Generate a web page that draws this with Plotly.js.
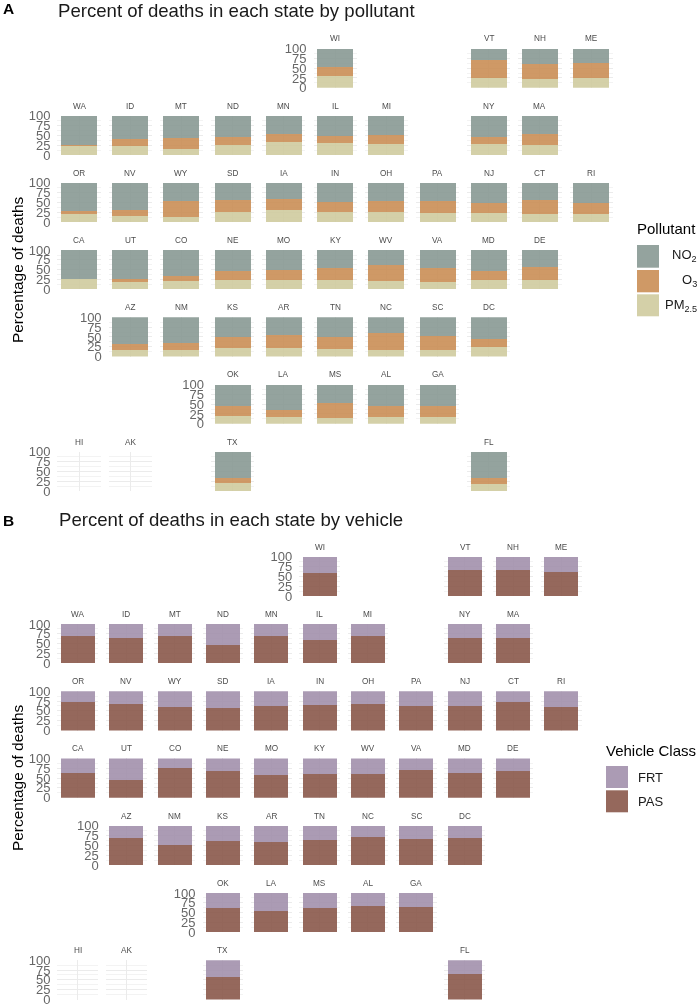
<!DOCTYPE html>
<html>
<head>
<meta charset="utf-8">
<script src="https://cdn.plot.ly/plotly-3.0.1.min.js"></script>
<style>html,body{margin:0;padding:0;background:#fff;overflow:hidden}#chart{width:700px;height:1006px}.main-svg{will-change:transform}</style>
</head>
<body>
<div id="chart"></div>
<script>
const states = ["WI","VT","NH","ME","WA","ID","MT","ND","MN","IL","MI","NY","MA","OR","NV","WY","SD","IA","IN","OH","PA","NJ","CT","RI","CA","UT","CO","NE","MO","KY","WV","VA","MD","DE","AZ","NM","KS","AR","TN","NC","SC","DC","OK","LA","MS","AL","GA","HI","AK","TX","FL"];
const gridRow = [0,0,0,0,1,1,1,1,1,1,1,1,1,2,2,2,2,2,2,2,2,2,2,2,3,3,3,3,3,3,3,3,3,3,4,4,4,4,4,4,4,4,5,5,5,5,5,6,6,6,6];
const gridCol = [5,8,9,10,0,1,2,3,4,5,6,8,9,0,1,2,3,4,5,6,7,8,9,10,0,1,2,3,4,5,6,7,8,9,1,2,3,4,5,6,7,8,3,4,5,6,7,0,1,3,8];

const pm25 = [29,24,23,24,24,23,16,25,33,30,27,27,25,20,16,12,25,32,26,25,24,23,21,22,27,20,21,23,23,23,21,19,23,23,16,16,22,21,19,18,17,25,19,17,16,17,18,null,null,20,19];
const o3   = [25,46,37,39,1,17,26,20,20,18,25,20,28,9,14,41,32,28,25,29,30,25,35,27,0,6,12,24,27,31,41,35,25,34,15,18,29,35,32,41,36,20,27,17,36,28,28,null,null,13,14];
const no2  = [46,30,40,37,75,60,58,55,47,52,48,53,47,71,70,47,43,40,49,46,46,52,44,51,73,74,67,53,50,46,38,46,52,43,69,66,49,44,49,41,47,55,54,66,48,55,54,null,null,67,67];
const pas  = [58,67,66,62,69,64,70,47,69,58,69,64,64,73,68,59,57,63,64,67,62,62,72,60,62,44,76,67,58,61,61,70,62,68,68,52,61,58,64,72,67,69,61,53,62,66,63,null,null,58,66];
const frt  = [42,33,34,38,31,36,30,53,31,42,31,36,36,27,32,41,43,37,36,33,38,38,28,40,38,56,24,33,42,39,39,30,38,32,32,48,39,42,36,28,33,31,39,47,38,34,37,null,null,42,34];

const yTicks = [0,25,50,75,100];
const yMinor = [12.5,37.5,62.5,87.5];
const pollutantNames = ["NO<sub>2</sub>","O<sub>3</sub>","PM<sub>2.5</sub>"];
const vehicleNames = ["FRT","PAS"];

const panels = [
  { series:[[pm25,"#cfcb9e","PM2.5"],[o3,"#ca8e55","O3"],[no2,"#889993","NO2"]],
    x0:79, pitchX:51.22, y0:48.5, pitchY:67.2, pw:43.2, ph:39.3 },
  { series:[[pas,"#8a584a","PAS"],[frt,"#a290ac","FRT"]],
    x0:77.85, pitchX:48.35, y0:556.7, pitchY:67.25, pw:40.8, ph:39.3 }
];

const W = 700, H = 1006;
const TXT = "Liberation Sans, Arial, sans-serif";
const traces = [];
const layout = {
  width:W, height:H, margin:{l:0,r:0,t:0,b:0}, paper_bgcolor:"#fff", plot_bgcolor:"rgba(0,0,0,0)",
  barmode:"stack", showlegend:false, hovermode:false,
  font:{family:TXT},
  title:{text:"Percent of deaths in each state by pollutant", x:58/W, xanchor:"left", y:1-10.5/H, yanchor:"middle", font:{size:18.6,color:"#1a1a1a",family:TXT}},
  annotations:[], shapes:[]
};

function note(text,x,y,size,color,extra){
  layout.annotations.push(Object.assign({text,x:x/W,y:1-y/H,xref:"paper",yref:"paper",showarrow:false,
    xanchor:"center",yanchor:"middle",font:{size,color,family:TXT},borderpad:0},extra||{}));
}
function key(x0,y0,x1,y1,color){
  layout.shapes.push({type:"rect",xref:"paper",yref:"paper",x0:x0/W,x1:x1/W,y0:1-y1/H,y1:1-y0/H,fillcolor:color,opacity:0.9,line:{width:0}});
}

let n = 0;
panels.forEach(p=>{
  const rowFirst = {};
  states.forEach((s,i)=>{ const r=gridRow[i]; if(rowFirst[r]===undefined||gridCol[i]<rowFirst[r]) rowFirst[r]=gridCol[i]; });
  states.forEach((s,i)=>{
    n++;
    const sfx = n===1?"":String(n);
    const cx = p.x0 + p.pitchX*gridCol[i];
    const top = p.y0 + p.pitchY*gridRow[i];
    layout["xaxis"+sfx] = {domain:[(cx-p.pw/2)/W,(cx+p.pw/2)/W], range:[-0.54,0.54], type:"category",
      anchor:"y"+sfx, showticklabels:false, ticks:"", showgrid:true, gridcolor:"#ebebeb", gridwidth:1, zeroline:false, showline:false, fixedrange:true};
    layout["yaxis"+sfx] = {domain:[1-(top+p.ph)/H,1-top/H], range:[0,100], anchor:"x"+sfx,
      tickmode:"array", tickvals:yTicks, ticktext:yTicks.map(String), ticks:"", zeroline:false, showline:false,
      showgrid:true, gridcolor:"#ebebeb", gridwidth:1, fixedrange:true,
      minor:{tickmode:"array",tickvals:yMinor,showgrid:true,gridcolor:"#f3f3f3",gridwidth:1,ticks:""},
      showticklabels:gridCol[i]===rowFirst[gridRow[i]], ticklabelstandoff:6, ticklabeloverflow:"allow",
      tickfont:{size:13,color:"#666",family:TXT}};
    p.series.forEach(([vals,color,name])=>{
      traces.push({type:"bar",name,x:[s],y:[vals[i]],width:0.9,xaxis:"x"+sfx,yaxis:"y"+sfx,
        marker:{color,opacity:0.9,line:{width:0}},hoverinfo:"skip"});
    });
    note(s,cx,top-9.7,8.2,"#4d4d4d");
  });
});

/* panel tags, titles, axis titles */
note("<b>A</b>",8,9,15.5,"#000");
note("<b>B</b>",8,520,15.5,"#000");
note("Percent of deaths in each state by vehicle",57.5,519,18.6,"#1a1a1a",{xanchor:"left"});
note("Percentage of deaths",17,270,15.4,"#000",{textangle:-90});
note("Percentage of deaths",17,778,15.4,"#000",{textangle:-90});

/* legend A */
note("Pollutant",636,229,15,"#000",{xanchor:"left"});
key(637,245,659,267.7,"#889993"); note(pollutantNames[0],698,256,13,"#1a1a1a",{xanchor:"right"});
key(637,270,659,292.3,"#ca8e55"); note(pollutantNames[1],698,281,13,"#1a1a1a",{xanchor:"right"});
key(637,294.3,659,316.3,"#cfcb9e"); note(pollutantNames[2],698,305,13,"#1a1a1a",{xanchor:"right"});

/* legend B */
note("Vehicle Class",605,750,15,"#000",{xanchor:"left"});
key(606,766,628,788,"#a290ac"); note(vehicleNames[0],636.7,777,13,"#1a1a1a",{xanchor:"left"});
key(606,790.3,628,812.3,"#8a584a"); note(vehicleNames[1],636.7,801.5,13,"#1a1a1a",{xanchor:"left"});

Plotly.newPlot("chart",traces,layout,{displayModeBar:false,staticPlot:true});
</script>
</body>
</html>
